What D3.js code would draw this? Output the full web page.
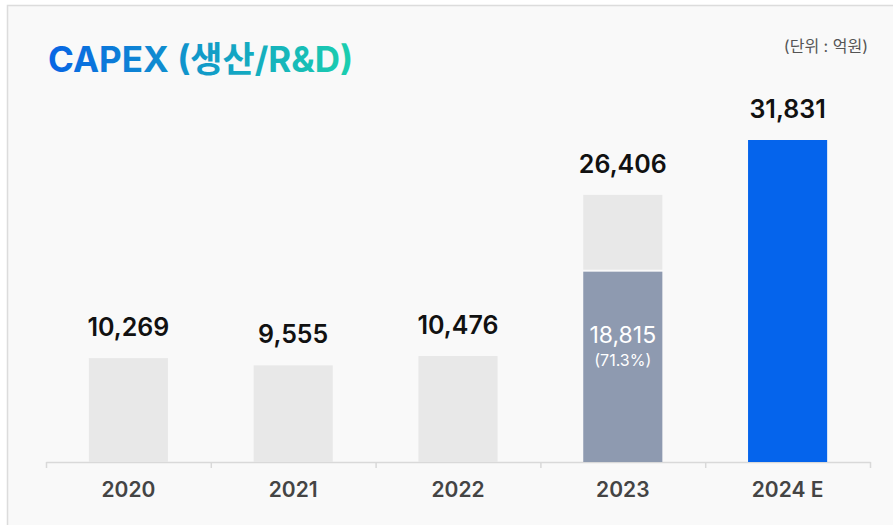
<!DOCTYPE html>
<html>
<head>
<meta charset="utf-8">
<script src="https://cdn.jsdelivr.net/npm/d3@7"></script>
<style>
  html, body { margin: 0; padding: 0; background: #fff; }
  svg { display: block; font-family: Inter, "Noto Sans CJK KR", sans-serif; }
</style>
</head>
<body>
<svg id="capex-svg" width="893" height="525"></svg>
<script>
let years = ['2020', '2021', '2022', '2023', '2024 E'];
let capexTotal = [10269, 9555, 10476, 26406, 31831];
let capexPart = [null, null, null, 18815, null];
let capexPartShare = [null, null, null, '(71.3%)', null];
let titleText = 'CAPEX (생산/R&D)';
let unitText = '(단위 : 억원)';

let svg = d3.select('#capex-svg');
let padding = {l: 46, r: 23, top: 140, base: 462};

let grayColor = '#e8e8e8';
let partColor = '#8e9ab0';
let lastColor = '#0564ec';

// frame + background
svg.append('rect')
    .attr('x', 7.5).attr('y', 5.5)
    .attr('width', 900).attr('height', 530)
    .attr('fill', '#f9f9f9')
    .attr('stroke', '#dcdcdc')
    .attr('stroke-width', 1.5);

// title gradient
let defs = svg.append('defs');
let grad = defs.append('linearGradient')
    .attr('id', 'titleGrad')
    .attr('x1', '0%').attr('x2', '100%').attr('y1', '0%').attr('y2', '0%');
grad.append('stop').attr('offset', '0%').attr('stop-color', '#0865e4');
grad.append('stop').attr('offset', '100%').attr('stop-color', '#1bcfae');

svg.append('text')
    .attr('x', 48).attr('y', 72)
    .attr('fill', 'url(#titleGrad)')
    .style('font-size', '35px')
    .style('font-weight', 700)
    .text(titleText);

svg.append('text')
    .attr('x', 868).attr('y', 52)
    .attr('text-anchor', 'end')
    .attr('fill', '#555')
    .style('font-size', '16px')
    .text(unitText);

let x = d3.scaleBand()
    .domain(years)
    .range([padding.l, 893 - padding.r + 0])
    .paddingInner(0.52)
    .paddingOuter(0.26);
let y = d3.scaleLinear()
    .domain([0, d3.max(capexTotal)])
    .range([padding.base, padding.top]);

// boundary ticks
let edgeScale = d3.scaleLinear().domain([0, years.length]).range([padding.l, 893 - padding.r]);
let edgeAxis = d3.axisBottom(edgeScale)
    .tickValues(d3.range(years.length + 1))
    .tickFormat('')
    .tickSizeInner(6)
    .tickSizeOuter(0);
let edgeG = svg.append('g')
    .attr('transform', `translate(0, ${padding.base})`)
    .call(edgeAxis);
edgeG.selectAll('path, line').attr('stroke', '#d9d9d9').attr('stroke-width', 1.5);

let labelAxis = d3.axisBottom(x).tickSize(0).tickPadding(20);
let labelG = svg.append('g')
    .attr('transform', `translate(0, ${padding.base})`)
    .call(labelAxis);
labelG.select('.domain').remove();
labelG.selectAll('text')
    .attr('fill', '#444')
    .style('font-family', 'Inter, sans-serif')
    .style('font-size', '21px')
    .style('font-weight', 600);

let barData = years.map((yr, i) => ({year: yr, total: capexTotal[i], part: capexPart[i], share: capexPartShare[i], last: i === years.length - 1}));

let barG = svg.append('g');
// total bars (gray part on top of the split bar)
barG.selectAll('.bar-total')
    .data(barData)
    .enter()
    .append('rect')
    .attr('class', 'bar-total')
    .attr('x', d => x(d.year))
    .attr('width', x.bandwidth())
    .attr('y', d => y(d.total))
    .attr('height', d => d.part ? (y(d.part) - 2) - y(d.total) : padding.base - y(d.total))
    .attr('fill', d => d.last ? lastColor : grayColor);

let partData = barData.filter(d => d.part);
barG.selectAll('.bar-part')
    .data(partData)
    .enter()
    .append('rect')
    .attr('class', 'bar-part')
    .attr('x', d => x(d.year))
    .attr('width', x.bandwidth())
    .attr('y', d => y(d.part))
    .attr('height', d => padding.base - y(d.part))
    .attr('fill', partColor);

barG.selectAll('.part-value')
    .data(partData)
    .enter()
    .append('text')
    .attr('x', d => x(d.year) + x.bandwidth() / 2)
    .attr('y', 343)
    .attr('text-anchor', 'middle')
    .attr('fill', '#fff')
    .style('font-size', '23px')
    .text(d => d3.format(',')(d.part));

barG.selectAll('.part-share')
    .data(partData)
    .enter()
    .append('text')
    .attr('x', d => x(d.year) + x.bandwidth() / 2)
    .attr('y', 366)
    .attr('text-anchor', 'middle')
    .attr('fill', '#fff')
    .style('font-size', '16px')
    .text(d => d.share);

// value labels
barG.selectAll('.value-label')
    .data(barData)
    .enter()
    .append('text')
    .attr('class', 'value-label')
    .attr('x', d => x(d.year) + x.bandwidth() / 2)
    .attr('y', d => y(d.total) - 22)
    .attr('text-anchor', 'middle')
    .attr('fill', '#111')
    .style('font-size', '25px')
    .style('font-weight', 600)
    .text(d => d3.format(',')(d.total));
</script>
</body>
</html>
